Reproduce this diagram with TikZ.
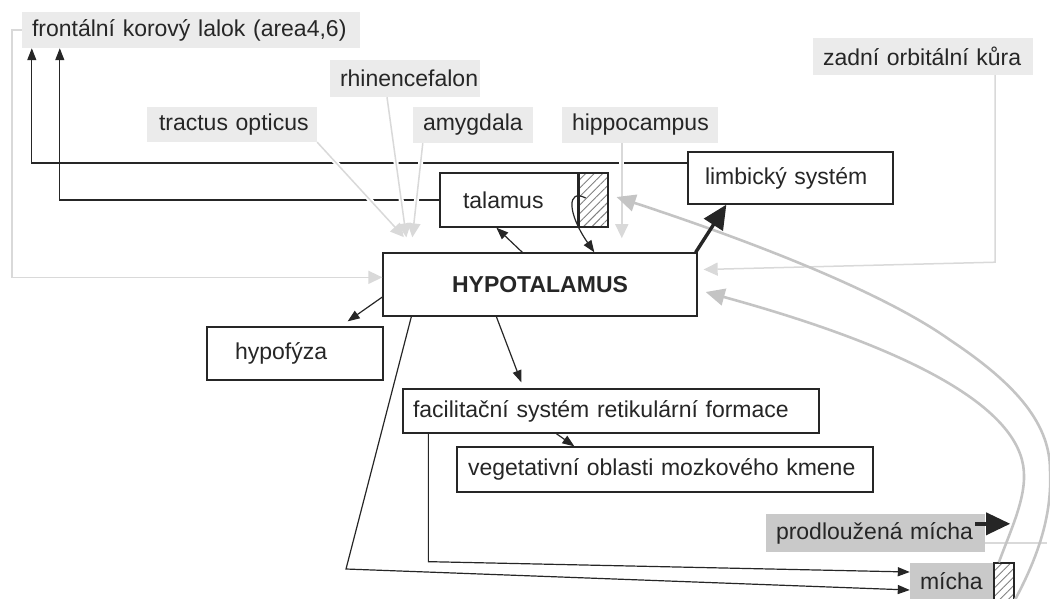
\documentclass[tikz,border=0pt]{standalone}
\usepackage{fontspec}
\setmainfont{Liberation Sans}
\usetikzlibrary{arrows.meta,calc,patterns.meta}
\definecolor{ink}{HTML}{262626}
\definecolor{lblgray}{HTML}{EBEBEB}
\definecolor{boxgray}{HTML}{C9C9C9}
\definecolor{faint}{HTML}{D9D9D9}
\definecolor{curvegray}{HTML}{C4C4C4}

\begin{document}
\begin{tikzpicture}[x=1pt, y=-1pt,
    font=\fontsize{23}{27}\selectfont, text=ink,
    box/.style={draw=ink, line width=1.3pt, fill=white, inner xsep=10pt, inner ysep=0pt, align=left, nowrap},
    lbl/.style={fill=lblgray, inner xsep=10pt, inner ysep=0pt, align=left, nowrap},
    hatchbox/.style={draw=ink, line width=1.3pt, inner sep=0pt, pattern={Lines[angle=45,distance=6pt,line width=0.9pt]}, pattern color=gray},
    nowrap/.style={execute at begin node={\hbox\bgroup}, execute at end node={\egroup}},
    arr/.style={draw=ink, line width=1.2pt, -{Triangle[length=12pt,width=9pt]}},
    fatarr/.style={draw=ink, line width=3.4pt, -{Triangle[length=24pt,width=22pt]}},
    faintarr/.style={draw=faint, line width=1.5pt, -{Triangle[length=14pt,width=13pt]}},
    curvearr/.style={draw=curvegray, line width=2.6pt, -{Triangle[length=19pt,width=17pt]}},
    halo/.style={preaction={draw=white, line width=5pt, -}}]

\useasboundingbox (0,0) rectangle (1050,598);

% grey labels
\node[lbl, text width=338-20, minimum height=36] (front) at (191,30) {frontální korový lalok (area4,6)};
\node[lbl, text width=150-20, minimum height=37] (rhin) at (405,78.5) {rhinencefalon};
\node[lbl, inner xsep=12pt, text width=170-24, minimum height=35] (tract) at (232,124.5) {tractus opticus};
\node[lbl, text width=120-20, minimum height=36] (amyg) at (473,125) {amygdala};
\node[lbl, text width=156-20, minimum height=36] (hippo) at (640,125) {hippocampus};
\node[lbl, text width=220-20, minimum height=37] (zadni) at (923,56.5) {zadní orbitální kůra};

% boxes
\node[box, inner xsep=23pt, text width=138-46, minimum height=54] (talamus) at (509,200) {talamus};
\node[hatchbox, minimum width=29, minimum height=54, anchor=west] (talhatch) at (talamus.east) {};
\node[box, inner xsep=17pt, text width=205-34, minimum height=52] (limbic) at (790.5,178) {limbický systém};
\node[draw=ink, line width=1.3pt, fill=white, minimum width=314, minimum height=63, font=\fontsize{23}{27}\selectfont\bfseries] (hypo) at (540,284.5) {HYPOTALAMUS};
\node[box, inner xsep=28pt, text width=176-56, minimum height=53] (hypof) at (295,353.5) {hypofýza};
\node[box, text width=416-20, minimum height=44] (facil) at (611,411) {facilitační systém retikulární formace};
\node[box, inner xsep=11pt, text width=416-22, minimum height=45] (veget) at (665,469.5) {vegetativní oblasti mozkového kmene};
\node[lbl, fill=boxgray, text width=219-20, minimum height=38] (prodl) at (875.5,533) {prodloužená mícha};
\node[lbl, fill=boxgray, text width=83-20, minimum height=37] (micha) at (951.5,581.5) {mícha};
\node[hatchbox, minimum width=20, minimum height=37, anchor=west] (michahatch) at (micha.east) {};

% faint inputs
\draw[faintarr] (front.west) -- ++(-10,0) |- ($(hypo.north west)+(0,25)$);
\draw[faintarr] ($(zadni.south east)+(-38,0)$) -- ++(0,187) -- ($(hypo.east)+(6,-15)$);

% to frontal cortex
\draw[arr] ($(limbic.west)+(0,-15)$) -| ($(front.south west)+(10,0)$);
\draw[arr] (talamus.west) -| ($(front.south west)+(38,0)$);

\draw[faintarr, halo] (tract.south east) -- ($(hypo.north west)+(22,-15)$);
\draw[faintarr, halo] ($(rhin.south)+(-18,0)$) -- ($(hypo.north west)+(24,-15)$);
\draw[faintarr, halo] ($(amyg.south west)+(10,0)$) -- ($(hypo.north west)+(30,-15)$);
\draw[faintarr, halo] ($(hippo.south west)+(60,0)$) -- ++(0,95);

% hypotalamus outputs
\draw[arr] ($(hypo.north west)+(140,0)$) -- ($(talamus.south west)+(57,0)$);
\draw[arr] ($(talhatch.west)+(7,-2)$) .. controls +(-19,-10) and +(-27,-39) .. ($(hypo.north west)+(212,0)$);
\draw[arr] ($(hypo.west)+(0,12.5)$) -- ($(hypof.north east)+(-36,-5)$);
\draw[arr] ($(hypo.south west)+(114,0)$) -- ($(facil.north west)+(119,-6)$);
\draw[arr] ($(facil.south west)+(154,0)$) -- ($(veget.north west)+(118,0)$);
\draw[arr] ($(facil.south west)+(26,0)$) -- ++(0,128) -- ($(micha.west)+(0,-9.5)$);
\coordinate (bend) at (346,569);
\draw[arr] ($(hypo.south west)+(29,0)$) -- (bend) -- ($(micha.west)+(0,8.5)$);

% ascending paths
\draw[draw=faint, line width=1.5pt] ($(prodl.south east)+(0,-9)$) -- ++(62,0);
\coordinate (oc1) at (1050,470);
\coordinate (oc2) at (950,340);
\coordinate (ic1) at (1022,460);
\draw[curvearr] (michahatch.south east) .. controls +(27,-50) and +(2,40) .. (oc1)
  .. controls +(0,-50) and +(60,40) .. (oc2)
  .. controls +(-70,-50) and +(125,41) .. ($(talhatch.east)+(8,-3)$);
\draw[curvearr] ($(michahatch.north)+(-5,0)$) .. controls +(14,-38) and +(8,30) .. (ic1)
  .. controls +(-17,-65) and +(175,48) .. ($(hypo.east)+(8,7.5)$);

\draw[fatarr] ($(hypo.north east)+(-2,0)$) -- ($(limbic.south west)+(39,0)$);
\draw[fatarr] ($(prodl.north east)+(-10,10)$) -- ++(35,0);
\end{tikzpicture}
\end{document}
